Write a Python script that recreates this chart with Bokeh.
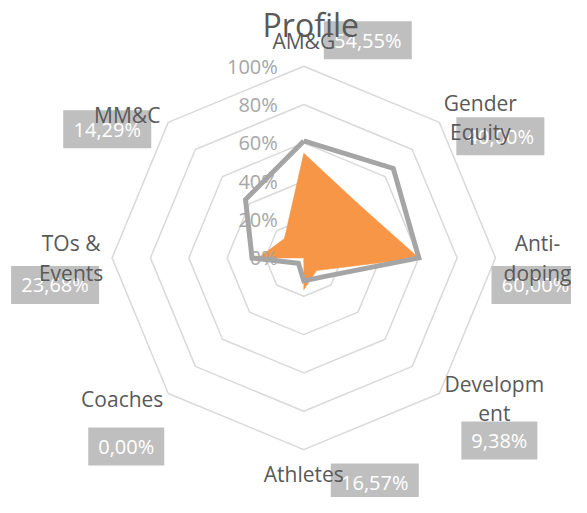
import numpy as np
from bokeh.plotting import figure
from bokeh.models import Range1d
from bokeh.core.properties import value
from bokeh.embed import file_html
from bokeh.resources import INLINE

# ---- data ----
categories = ["AM&G", "Gender\nEquity", "Anti-\ndoping", "Developm\nent",
              "Athletes", "Coaches", "TOs &\nEvents", "MM&C"]
profile = [54.55, 40.00, 60.00, 9.38, 16.57, 0.00, 23.68, 14.29]
benchmark = [61, 66, 60, 14, 12, 4, 27, 43]
tick_values = [0, 20, 40, 60, 80, 100]
tick_labels = ["0%", "20%", "40%", "60%", "80%", "100%"]
grid_levels = [20, 40, 60, 80, 100]
title_text = "Profile"

# ---- layout / style ----
W, H = 571, 497
S = 1.917                      # px per percent unit
CX, CY = 303.3, 257.4          # picture position of the centre
FONT = value("Open Sans")
cat_off = [(0, -25), (41, -5), (42, 0), (55, 5), (0, 24), (-46, 6), (-41, 0), (-41, -7)]
lab_off = [(64, -26), (61, 14), (40, 27), (60, 47), (71, 33), (-42, 53), (-57, 27), (-61, 7)]

n = len(categories)
theta = np.pi / 2 - np.arange(n) * 2 * np.pi / n


def polar(r, th):
    return r * np.cos(th), r * np.sin(th)


def at_vertex(i, dx, dy, r=100):
    x, y = polar(r, theta[i])
    return x + dx / S, y - dy / S


p = figure(width=W, height=H, output_backend="svg", toolbar_location=None,
           x_range=Range1d(-CX / S, (W - CX) / S),
           y_range=Range1d((CY - H) / S, CY / S),
           x_axis_type=None, y_axis_type=None, min_border=0,
           background_fill_color="white", border_fill_color="white")
p.grid.visible = False
p.outline_line_color = None

# grid octagons
gx, gy = [], []
for lv in grid_levels:
    xs, ys = polar(lv, theta)
    gx.append(list(xs) + [xs[0]])
    gy.append(list(ys) + [ys[0]])
p.multi_line(gx, gy, line_color="#d9d9d9", line_width=1.5)

# orange area series
ox, oy = polar(np.array(profile), theta)
p.patch(list(ox), list(oy), fill_color="#F79646", line_color="#F79646", line_width=0.5)

# gray line series
bx, by = polar(np.array(benchmark, dtype=float), theta)
p.line(list(bx) + [bx[0]], list(by) + [by[0]], line_color="#A5A5A5", line_width=5,
       line_join="miter")

# radial tick labels
p.text(x=[0] * len(tick_values), y=tick_values, text=tick_labels, x_offset=-26,
       text_align="right", text_baseline="middle", text_font=FONT,
       text_font_size="20px", text_color="#a6a6a6")

# data label boxes
lx, ly, lt, lw = [], [], [], []
for i, v in enumerate(profile):
    x, y = at_vertex(i, *lab_off[i])
    s = f"{v:.2f}".replace(".", ",") + "%"
    lx.append(x); ly.append(y); lt.append(s); lw.append(12 * len(s) + 16)
p.rect(x=lx, y=ly, width=lw, height=38, width_units="screen", height_units="screen",
       fill_color="#bfbfbf", line_color=None)
p.text(x=lx, y=ly, text=lt, text_align="center", text_baseline="middle",
       text_font=FONT, text_font_size="20px", text_color="white")

# category labels
cx_, cy_ = [], []
for i in range(n):
    x, y = at_vertex(i, *cat_off[i])
    cx_.append(x); cy_.append(y)
p.text(x=cx_, y=cy_, text=categories, text_align="center", text_baseline="middle",
       text_font=FONT, text_font_size="21px", text_color="#595959",
       text_line_height=1.05)

# title
tx, ty = at_vertex(0, 7, -42)
p.text(x=[tx], y=[ty], text=[title_text], text_align="center",
       text_baseline="alphabetic", text_font=FONT, text_font_size="32px",
       text_color="#595959")

open("out.html", "w").write(file_html(p, INLINE))
